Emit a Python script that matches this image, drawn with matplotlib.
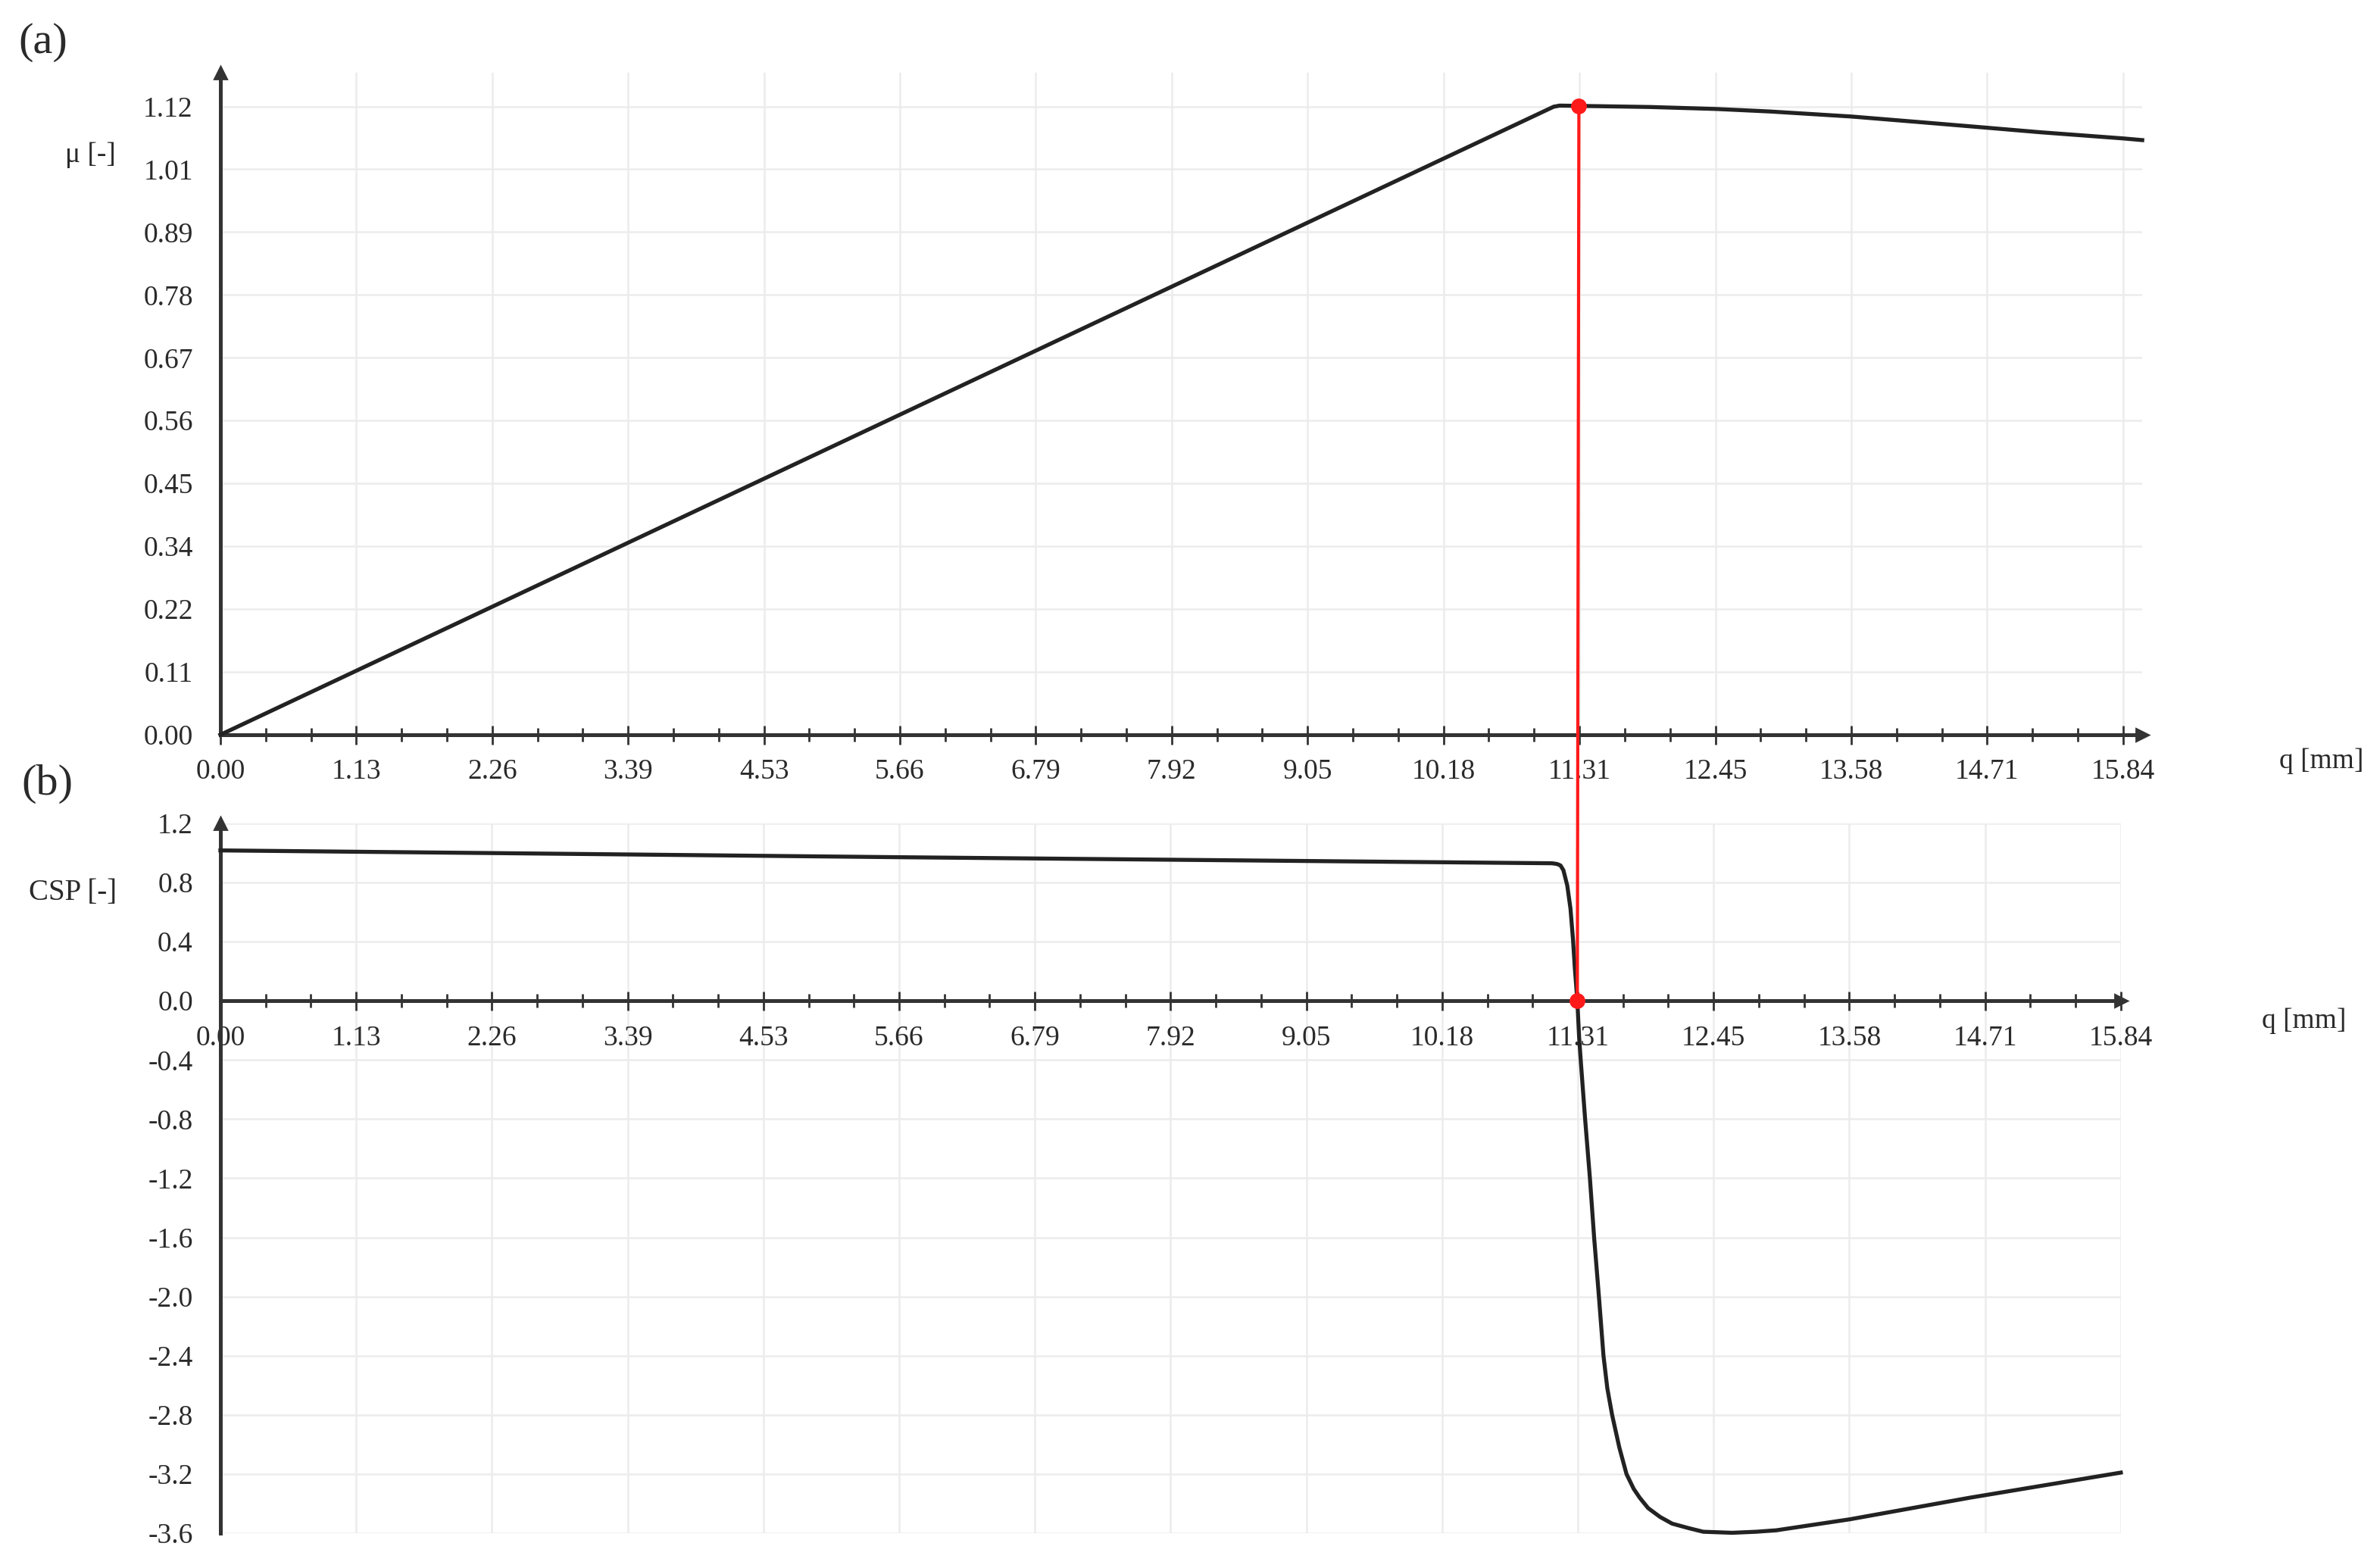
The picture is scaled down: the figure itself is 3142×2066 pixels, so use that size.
import matplotlib
matplotlib.use('Agg')
import matplotlib.pyplot as plt
import numpy as np
from matplotlib.patches import ConnectionPatch

plt.rcParams['font.family'] = ['Liberation Serif', 'DejaVu Serif']

# ---------------- data ----------------
q_tick_labels = ["0.00", "1.13", "2.26", "3.39", "4.53", "5.66", "6.79", "7.92",
                 "9.05", "10.18", "11.31", "12.45", "13.58", "14.71", "15.84"]
q_max = 15.84

mu_tick_labels = ["0.00", "0.11", "0.22", "0.34", "0.45", "0.56", "0.67",
                  "0.78", "0.89", "1.01", "1.12"]
mu_max = 1.12

csp_tick_labels = ["-3.6", "-3.2", "-2.8", "-2.4", "-2.0", "-1.6", "-1.2",
                   "-0.8", "-0.4", "0.0", "0.4", "0.8", "1.2"]

# (a) friction coefficient mu vs displacement q
mu_q = [0.0, 11.10, 11.15, 11.31, 11.9, 12.45, 12.9, 13.58, 14.15, 14.71, 15.15, 15.84, 16.0]
mu_v = [0.0, 1.1195, 1.1215, 1.121, 1.119, 1.1155, 1.111, 1.102, 1.092, 1.082, 1.074, 1.063, 1.060]

# (b) CSP vs displacement q
csp_q = [0.0, 2.26, 5.66, 11.10, 11.142, 11.17, 11.194, 11.226, 11.253, 11.274,
         11.289, 11.31, 11.325, 11.34, 11.375, 11.415, 11.45, 11.49, 11.528,
         11.56, 11.60, 11.66, 11.72, 11.78, 11.83, 11.9, 12.0, 12.1, 12.24,
         12.36, 12.6, 12.80, 12.97, 13.58, 14.58, 15.84]
csp_v = [1.017, 0.999, 0.971, 0.930, 0.925, 0.915, 0.883, 0.78, 0.623, 0.414,
         0.223, 0.0, -0.247, -0.42, -0.80, -1.20, -1.60, -2.0, -2.4,
         -2.62, -2.8, -3.02, -3.2, -3.30, -3.36, -3.43, -3.49, -3.535, -3.566,
         -3.59, -3.597, -3.59, -3.58, -3.506, -3.36, -3.19]

critical_q = 11.31

# ---------------- style ----------------
AX_COL = '#333333'
TXT_COL = '#2a2a2a'
GRID_COL = '#ececec'
CURVE_COL = '#222222'
FS = 13.5

fig = plt.figure(figsize=(15.71, 10.33), dpi=200)
ax1 = fig.add_axes([0.0926, 0.5305, 0.8075, 0.423])
ax2 = fig.add_axes([0.0926, 0.0203, 0.7985, 0.4536])

q_major = np.linspace(0, q_max, len(q_tick_labels))
q_all = np.linspace(0, q_max, 3 * (len(q_tick_labels) - 1) + 1)
q_minor = [v for i, v in enumerate(q_all) if i % 3 != 0]


def style_axis(ax, xmax, ylo, yhi, yticks, ylabels, zero_spine):
    ax.set_xlim(0, xmax)
    ax.set_ylim(ylo, yhi)
    for s in ['top', 'right']:
        ax.spines[s].set_visible(False)
    ax.spines['left'].set_color(AX_COL)
    ax.spines['left'].set_linewidth(1.8)
    ax.spines['bottom'].set_color(AX_COL)
    ax.spines['bottom'].set_linewidth(1.8)
    if zero_spine:
        ax.spines['bottom'].set_position(('data', 0))
    ax.set_xticks(q_major)
    ax.set_xticklabels(q_tick_labels)
    ax.set_xticks(q_minor, minor=True)
    ax.set_yticks(yticks)
    ax.set_yticklabels(ylabels)
    ax.tick_params(axis='x', which='major', direction='inout', length=9, width=1.0,
                   color=AX_COL, labelsize=FS, labelcolor=TXT_COL, pad=7)
    ax.tick_params(axis='x', which='minor', direction='inout', length=6.5, width=1.0,
                   color=AX_COL)
    ax.tick_params(axis='y', which='both', length=0, labelsize=FS,
                   labelcolor=TXT_COL, pad=13)
    # grid
    for yv in yticks:
        ax.axhline(yv, color=GRID_COL, lw=0.9, zorder=0)
    for xv in q_major:
        ax.plot([xv, xv], [ylo, yhi], color=GRID_COL, lw=0.9, zorder=0)
    # arrow heads
    ax.plot([xmax], [0], marker='>', ms=6, color=AX_COL, clip_on=False, zorder=5)
    ax.plot([0], [yhi], marker='^', ms=6, color=AX_COL, clip_on=False, zorder=5)


mu_ticks = np.linspace(0, mu_max, len(mu_tick_labels))
style_axis(ax1, mu_q[-1], 0, 1.18, mu_ticks, mu_tick_labels, False)

csp_ticks = [float(s) for s in csp_tick_labels]
style_axis(ax2, q_max, -3.6, 1.2, csp_ticks, csp_tick_labels, True)

# curves
ax1.plot(mu_q, mu_v, color=CURVE_COL, lw=1.9, zorder=3, clip_on=False,
         solid_joinstyle='round')
ax2.plot(csp_q, csp_v, color=CURVE_COL, lw=1.9, zorder=3, clip_on=False,
         solid_joinstyle='round')

# critical point connector
mu_crit = float(np.interp(critical_q, mu_q, mu_v))
con = ConnectionPatch(xyA=(critical_q, mu_crit), coordsA=ax1.transData,
                      xyB=(critical_q, 0.0), coordsB=ax2.transData,
                      color='#ff1a1a', lw=1.5, zorder=10)
fig.add_artist(con)
ax1.plot([critical_q], [mu_crit], marker='o', ms=6.5, color='#ff1a1a', zorder=11,
         clip_on=False)
ax2.plot([critical_q], [0.0], marker='o', ms=6.5, color='#ff1a1a', zorder=11,
         clip_on=False)

# labels
fig.text(0.0379, 0.9008, 'μ [-]', fontsize=FS, color=TXT_COL, ha='center', va='center')
fig.text(0.0305, 0.4298, 'CSP [-]', fontsize=FS + 0.5, color=TXT_COL, ha='center', va='center')
fig.text(0.9755, 0.5136, 'q [mm]', fontsize=FS, color=TXT_COL, ha='center', va='center')
fig.text(0.968, 0.3475, 'q [mm]', fontsize=FS, color=TXT_COL, ha='center', va='center')
fig.text(0.018, 0.973, '(a)', fontsize=21, color=TXT_COL, ha='center', va='center')
fig.text(0.020, 0.499, '(b)', fontsize=21, color=TXT_COL, ha='center', va='center')

fig.savefig('out.png', dpi=200, facecolor='white')
